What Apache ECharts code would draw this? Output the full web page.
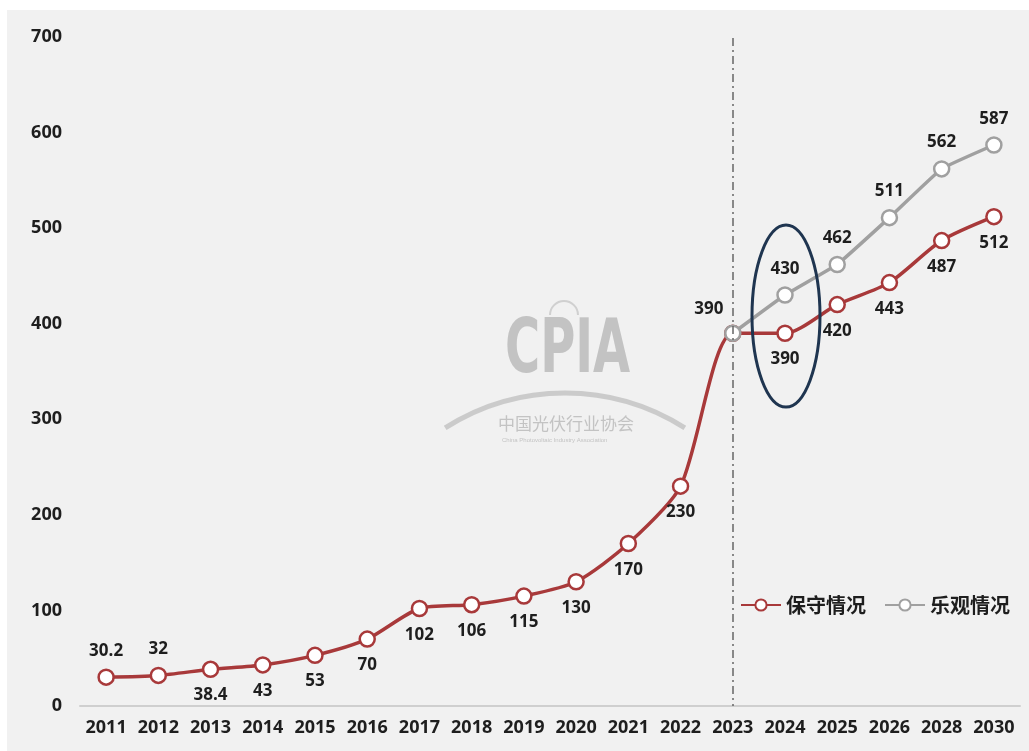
<!DOCTYPE html>
<html><head><meta charset="utf-8">
<script src="https://cdn.jsdelivr.net/npm/echarts@6/dist/echarts.min.js"></script>
<style>
html,body{margin:0;padding:0;background:#fff;}
#c{position:absolute;left:7px;top:10px;width:1022px;height:741px;background:#f1f1f1;}
</style></head>
<body><div id="c"></div>
<script>
const years = ['2011','2012','2013','2014','2015','2016','2017','2018','2019','2020','2021','2022','2023','2024','2025','2026','2028','2030'];
const conservative = [30.2,32,38.4,43,53,70,102,106,115,130,170,230,390,390,420,443,487,512];
const optimistic = [null,null,null,null,null,null,null,null,null,null,null,null,390,430,462,511,562,587];
const yTicks = [0,100,200,300,400,500,600,700];
const names = ['保守情况','乐观情况'];

const RED = '#a8393a', GRAY = '#a0a0a0';
const labelFont = {fontFamily:'"Open Sans","Noto Sans CJK SC",sans-serif', fontWeight:'bold', fontSize:17, color:'#1e1e1e'};

const redData = conservative.map((v,i)=>{
  const o = {value:v};
  if (i<2) o.label = {position:'top'};
  if (i===12) o.label = {show:false};
  return o;
});
const grayData = optimistic.map((v,i)=>{
  if (v===null) return null;
  const o = {value:v};
  if (i===12) o.label = {position:'top', offset:[-24,2]};
  return o;
});

const chart = echarts.init(document.getElementById('c'));
chart.setOption({
  animation:false,
  backgroundColor:'#f1f1f1',
  grid:{left:73,right:9,top:27,bottom:45},
  legend:{
    data:names, right:14, top:580, itemWidth:40, itemHeight:14, itemGap:18,
    textStyle:{fontFamily:'"Noto Sans CJK SC",sans-serif', fontWeight:'bold', fontSize:20, color:'#1e1e1e'}
  },
  xAxis:{
    type:'category', data:years, boundaryGap:true,
    axisLine:{lineStyle:{color:'#cfcfcf',width:2}}, axisTick:{show:false},
    axisLabel:{...labelFont, fontSize:18, margin:13, interval:0}
  },
  yAxis:{
    type:'value', min:yTicks[0], max:yTicks[yTicks.length-1], interval:100,
    axisLine:{show:false}, axisTick:{show:false}, splitLine:{show:false},
    axisLabel:{...labelFont, fontSize:18, margin:18, align:'right'}
  },
  series:[
    {
      name:names[0], type:'line', data:redData, smooth:0.25,
      symbol:'circle', symbolSize:15,
      itemStyle:{color:'#fff', borderColor:RED, borderWidth:2.5},
      lineStyle:{color:RED, width:3.5},
      label:{show:true, position:'bottom', distance:9, ...labelFont},
      markLine:{
        silent:true, symbol:'none', label:{show:false},
        lineStyle:{color:'#666', type:[8,4,2,4], width:1.5},
        data:[[{xAxis:'2023', y:28},{xAxis:'2023', yAxis:0}]]
      },
      z:2
    },
    {
      name:names[1], type:'line', data:grayData, smooth:0.1,
      symbol:'circle', symbolSize:15,
      itemStyle:{color:'#fff', borderColor:GRAY, borderWidth:2.5},
      lineStyle:{color:GRAY, width:3.5},
      label:{show:true, position:'top', distance:9, ...labelFont},
      z:3
    }
  ]
});

// annotations: highlight ellipse around 2024 and watermark
const c24 = chart.convertToPixel({xAxisIndex:0,yAxisIndex:0},['2024',408]);
const half = 32.5*Math.PI/180;
chart.setOption({
  graphic:[
    {type:'ellipse', shape:{cx:c24[0]+1, cy:c24[1], rx:34, ry:91}, style:{fill:'none', stroke:'#1f3550', lineWidth:3}, z:10},
    {type:'text', x:498, y:306, scaleX:0.72, style:{text:'CPIA', font:'bold 74px "Liberation Sans Narrow","DejaVu Sans Condensed",sans-serif', fill:'rgba(150,150,150,0.5)'}, z:0},
    {type:'arc', shape:{cx:558, cy:606, r:223, startAngle:-Math.PI/2-half, endAngle:-Math.PI/2+half}, style:{stroke:'rgba(165,165,165,0.5)', lineWidth:5, fill:'none'}, z:0},
    {type:'arc', shape:{cx:557, cy:305, r:14, startAngle:-Math.PI, endAngle:0}, style:{stroke:'rgba(175,175,175,0.5)', lineWidth:2, fill:'none'}, z:0},
    {type:'text', left:491, top:405, style:{text:'中国光伏行业协会', font:'17px "Noto Sans CJK SC"', fill:'rgba(150,150,150,0.5)'}, z:0},
    {type:'text', left:495, top:427, style:{text:'China Photovoltaic Industry Association', font:'6px sans-serif', fill:'rgba(150,150,150,0.5)'}, z:0}
  ]
});
</script></body></html>
